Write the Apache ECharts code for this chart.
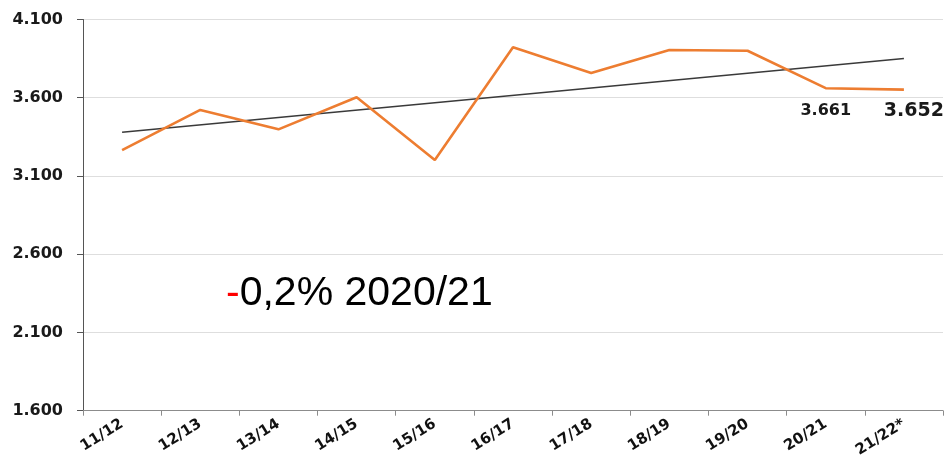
<!DOCTYPE html>
<html>
<head>
<meta charset="utf-8">
<script src="https://cdn.jsdelivr.net/npm/echarts@6/dist/echarts.min.js"></script>
<style>
  html, body { margin: 0; padding: 0; background: #fff; }
  #main { width: 947px; height: 463px; }
</style>
</head>
<body>
<div id="main"></div>
<script>
// seasons on the x axis
var seasons = ['11/12', '12/13', '13/14', '14/15', '15/16', '16/17', '17/18', '18/19', '19/20', '20/21', '21/22*'];
// values
var values = [3265, 3522, 3398, 3603, 3202, 3922, 3758, 3905, 3900, 3661, 3652];
// trend line end points, middle left empty
var trend = [3380, null, null, null, null, null, null, null, null, null, 3850];
// which points get a value label
var labelled = [9, 10];

var yMin = 1600, yMax = 4100, yStep = 500;

function fmt(v) {
  return (v / 1000).toFixed(3);
}

var chart = echarts.init(document.getElementById('main'));

var lineData = values.map(function (v, i) {
  if (labelled.indexOf(i) < 0) return v;
  var last = i === values.length - 1;
  return {
    value: v,
    label: {
      show: true,
      position: 'bottom',
      distance: last ? 12 : 15,
      offset: last ? [10, 0] : [0, 0],
      fontSize: last ? 19 : 16,
      fontWeight: 'bold',
      fontFamily: 'DejaVu Sans',
      color: '#1a1a1a',
      formatter: function (p) { return fmt(p.value); }
    }
  };
});

chart.setOption({
  backgroundColor: '#fff',
  animation: false,
  grid: { left: 83, right: 4, top: 19.5, bottom: 52.3 },
  xAxis: {
    type: 'category',
    data: seasons,
    boundaryGap: true,
    axisLine: { lineStyle: { color: '#8c8c8c', width: 1 } },
    axisTick: { show: true, length: 5, lineStyle: { color: '#8c8c8c' } },
    axisLabel: {
      rotate: 32,
      margin: 12,
      interval: 0,
      color: '#111',
      fontSize: 15,
      fontWeight: 'bold',
      fontFamily: 'DejaVu Sans'
    }
  },
  yAxis: {
    type: 'value',
    min: yMin,
    max: yMax,
    interval: yStep,
    axisLine: { show: true, lineStyle: { color: '#555', width: 1 } },
    axisTick: { show: true, length: 6, lineStyle: { color: '#555' } },
    splitLine: { show: true, lineStyle: { color: '#dedede', width: 1 } },
    axisLabel: {
      margin: 20,
      color: '#1a1a1a',
      fontSize: 16,
      fontWeight: 'bold',
      fontFamily: 'DejaVu Sans',
      formatter: fmt
    }
  },
  series: [
    {
      name: 'trend',
      type: 'line',
      data: trend,
      connectNulls: true,
      symbol: 'none',
      z: 3,
      lineStyle: { color: '#3a3a3a', width: 1.5 }
    },
    {
      name: 'values',
      type: 'line',
      data: lineData,
      symbol: 'circle',
      symbolSize: 0,
      showSymbol: true,
      z: 4,
      itemStyle: { color: '#ED7D31' },
      lineStyle: { color: '#ED7D31', width: 2.6 }
    }
  ],
  graphic: [
    {
      type: 'text',
      left: 226,
      top: 273,
      style: {
        text: '{r|-}{k|0,2% 2020/21}',
        rich: {
          r: { fill: '#ff0000', fontSize: 41, fontFamily: 'Liberation Sans' },
          k: { fill: '#000', fontSize: 41, fontFamily: 'Liberation Sans' }
        }
      }
    }
  ]
});
</script>
</body>
</html>
